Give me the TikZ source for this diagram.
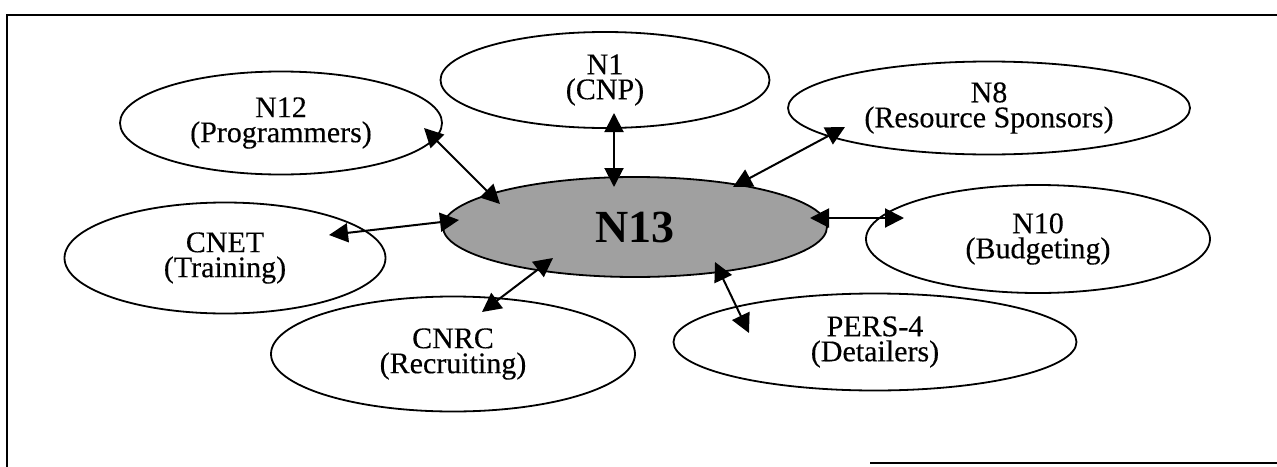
\documentclass[tikz,border=0pt]{standalone}
\usepackage{fontspec}
\setmainfont{Liberation Serif}
\newfontfamily\labelfont[FakeBold=0.3]{Liberation Serif}
\usetikzlibrary{arrows.meta,shapes.geometric}
\definecolor{hatch}{RGB}{160,160,160}
\begin{document}
\begin{tikzpicture}[x=1pt,y=-1pt,
  oval/.style={draw, ellipse, line width=1.8pt, inner sep=0pt, align=center,
    font=\labelfont\fontsize{30}{25}\selectfont},
  biarrow/.style={line width=2pt,
    {Triangle[length=19pt,width=19pt]}-{Triangle[length=19pt,width=19pt]}},
  frameline/.style={line width=2.4pt}]
\useasboundingbox (0,0) rectangle (1277,466);
\draw[frameline] (7,467) -- (7,15) -- (1278,15);
\draw[frameline] (870,463) -- (1278,463);

\node[oval, minimum width=329pt, minimum height=96pt] (n1) at (605,80) {N1\\(CNP)};
\node[oval, minimum width=322pt, minimum height=103pt] (n12) at (281,123) {N12\\(Programmers)};
\node[oval, minimum width=402pt, minimum height=93pt] (n8) at (989,108) {N8\\(Resource Sponsors)};
\node[oval, minimum width=321pt, minimum height=111pt] (cnet) at (225,258) {CNET\\(Training)};
\node[oval, fill=hatch, minimum width=384pt, minimum height=100pt,
  font=\rmfamily\fontsize{46}{46}\selectfont\bfseries] (n13) at (635,227) {N13};
\node[oval, minimum width=344pt, minimum height=108pt] (n10) at (1038,239) {N10\\(Budgeting)};
\node[oval, minimum width=364pt, minimum height=115pt] (cnrc) at (453,354) {CNRC\\(Recruiting)};
\node[oval, minimum width=403pt, minimum height=97pt] (pers) at (875,342) {PERS-4\\(Detailers)};

\draw[biarrow] ([shift={(143,5)}]n12.center) -- ([shift={(-135,-23)}]n13.center);
\draw[biarrow] ([shift={(9,33)}]n1.center) -- ([shift={(-21,-40)}]n13.center);
\draw[biarrow] ([shift={(104,-23)}]cnet.center) -- ([shift={(-176,-7)}]n13.center);
\draw[biarrow] ([shift={(29,-42)}]cnrc.center) -- ([shift={(-82,31)}]n13.center);
\draw[biarrow] ([shift={(-144,19)}]n8.center) -- ([shift={(98,-40)}]n13.center);
\draw[biarrow] ([shift={(175,-9)}]n13.center) -- ([shift={(-134,-21)}]n10.center);
\draw[biarrow] ([shift={(80,35)}]n13.center) -- ([shift={(-126,-9)}]pers.center);
\end{tikzpicture}
\end{document}
